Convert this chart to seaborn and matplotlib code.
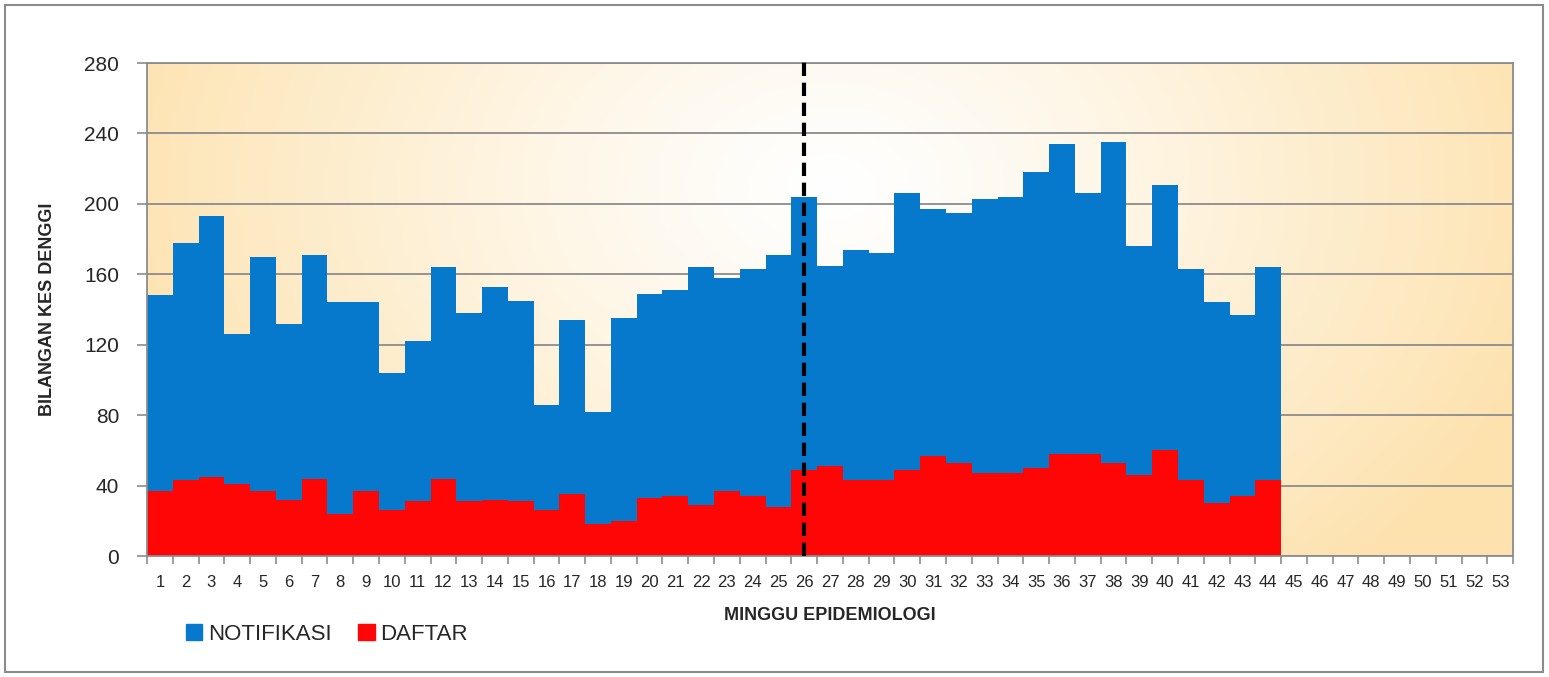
import numpy as np
import pandas as pd
import matplotlib
matplotlib.use("Agg")
import matplotlib.pyplot as plt
import seaborn as sns
from matplotlib import font_manager
from matplotlib.patches import Rectangle, Patch

# Weekly dengue cases (epidemiological weeks 1-44 reported, 53 on the axis)
weeks = [str(w) for w in range(1, 54)]
notifikasi = [148, 178, 193, 126, 170, 132, 171, 144, 144, 104,
              122, 164, 138, 153, 145, 86, 134, 82, 135, 149,
              151, 164, 158, 163, 171, 204, 165, 174, 172, 206,
              197, 195, 203, 204, 218, 234, 206, 235, 176, 211,
              163, 144, 137, 164]
daftar = [37, 43, 45, 41, 37, 32, 44, 24, 37, 26,
          31, 44, 31, 32, 31, 26, 35, 18, 20, 33,
          34, 29, 37, 34, 28, 49, 51, 43, 43, 49,
          57, 53, 47, 47, 50, 58, 58, 53, 46, 60,
          43, 30, 34, 43]
y_ticks = [0, 40, 80, 120, 160, 200, 240, 280]
cut_week = "26"

df = pd.DataFrame({"minggu": weeks[:len(notifikasi)],
                   "notifikasi": notifikasi, "daftar": daftar})

sns.set_theme(style="white")
available = {f.name for f in font_manager.fontManager.ttflist}
family = [f for f in ["Liberation Sans Narrow", "Liberation Sans", "DejaVu Sans"] if f in available]
plt.rcParams["font.family"] = family

fig = plt.figure(figsize=(15.49, 6.77), dpi=100)
ax = fig.add_axes([0.0949, 0.1787, 0.8819, 0.7282])

# gradient background (white centre, light orange edges)
gx, gy = np.meshgrid(np.linspace(0, 1, 400), np.linspace(0, 1, 200))
d = np.sqrt(((gx - 0.5) / 0.55) ** 2 + ((gy - 0.75) / 1.1) ** 2)
d = np.clip(d, 0, 1) ** 1.2
edge = np.array([253, 226, 174]) / 255
img = (1 - d[..., None]) * np.ones(3) + d[..., None] * edge
ax.imshow(img, extent=[0, 1, 0, 1], transform=ax.transAxes, aspect="auto",
          origin="lower", zorder=0)

blue = "#0779CC"
red = "#FE0606"
sns.barplot(data=df, x="minggu", y="notifikasi", order=weeks, color=blue,
            width=1.0, saturation=1, linewidth=0, ax=ax, zorder=3)
sns.barplot(data=df, x="minggu", y="daftar", order=weeks, color=red,
            width=1.0, saturation=1, linewidth=0, ax=ax, zorder=4)

ax.set_xlim(-0.5, len(weeks) - 0.5)
ax.set_ylim(0, 280)
ax.set_yticks(y_ticks)
ax.yaxis.grid(True, color="#8c8c8c", lw=1.3, zorder=2)
ax.set_axisbelow(False)
for line in ax.get_ygridlines():
    line.set_zorder(2)

ax.axvline(weeks.index(cut_week), color="black", ls=(0, (3.2, 1.6)), lw=3,
           ymax=1.006, clip_on=False, zorder=6)

for s in ax.spines.values():
    s.set_color("#8c8c8c")
    s.set_linewidth(1.3)
    s.set_zorder(5)

ax.set_xticks(range(len(weeks)))
ax.set_xticklabels(weeks, fontsize=12)
ax.set_xticks(np.arange(-0.5, len(weeks)), minor=True)
ax.tick_params(axis="x", which="major", length=0, pad=14)
ax.tick_params(axis="x", which="minor", length=6, color="#8c8c8c", width=1.2,
               bottom=True, direction="out")
ax.tick_params(axis="y", length=7, color="#8c8c8c", width=1.2, left=True,
               direction="out", labelsize=15, pad=13)

ax.set_xlabel("MINGGU EPIDEMIOLOGI", fontsize=13, fontweight="bold", labelpad=12)
ax.set_ylabel("BILANGAN KES DENGGI", fontsize=13, fontweight="bold", labelpad=20)

handles = [Patch(color=blue, label="NOTIFIKASI"), Patch(color=red, label="DAFTAR")]
fig.legend(handles=handles, loc="center left", bbox_to_anchor=(0.107, 0.063),
           ncol=2, frameon=False, fontsize=16, handlelength=0.75, handleheight=0.75,
           handletextpad=0.25, columnspacing=1.2)

fig.patches.append(Rectangle((0.003, 0.008), 0.993, 0.985, transform=fig.transFigure,
                             fill=False, edgecolor="#8c8c8c", lw=1.5))

fig.savefig("out.png", dpi=100)
